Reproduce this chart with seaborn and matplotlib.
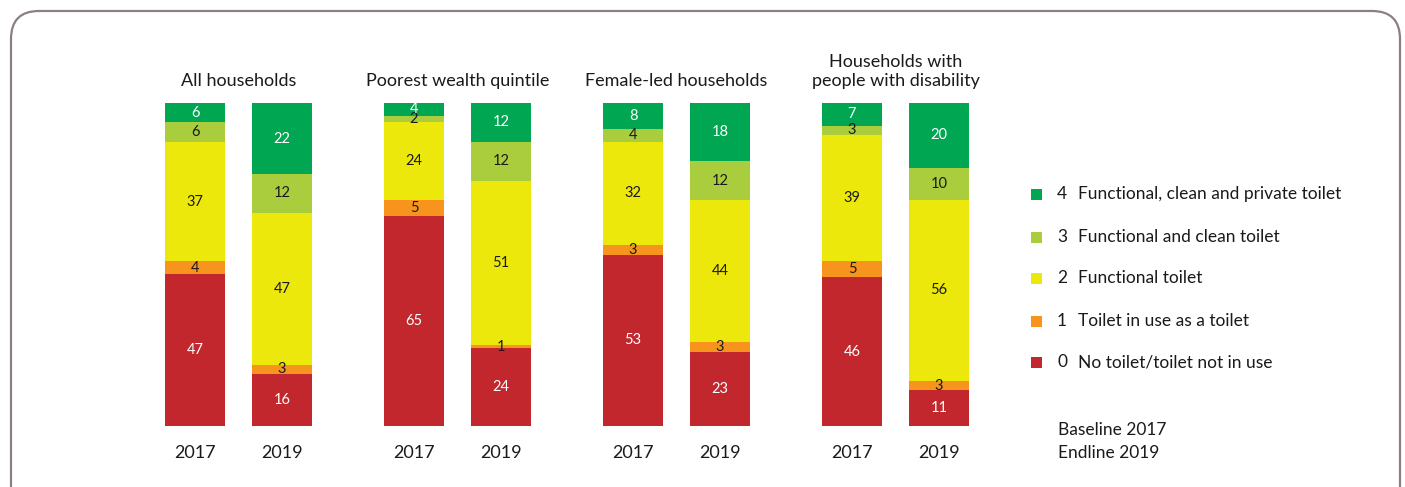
import numpy as np
import pandas as pd
import seaborn as sns
import matplotlib.pyplot as plt
from matplotlib.patches import FancyBboxPatch, Rectangle
from matplotlib.transforms import IdentityTransform

# ---------------- data ----------------
groups = ["All households", "Poorest wealth quintile", "Female-led households",
          "Households with\npeople with disability"]
years = ["2017", "2019"]
no_toilet = [47, 16, 65, 24, 53, 23, 46, 11]
in_use = [4, 3, 5, 1, 3, 3, 5, 3]
functional = [37, 47, 24, 51, 32, 44, 39, 56]
clean = [6, 12, 2, 12, 4, 12, 3, 10]
private = [6, 22, 4, 12, 8, 18, 7, 20]
legend_labels = ["No toilet/toilet not in use", "Toilet in use as a toilet",
                 "Functional toilet", "Functional and clean toilet",
                 "Functional, clean and private toilet"]
legend_codes = ["0", "1", "2", "3", "4"]
note_lines = ["Baseline 2017", "Endline 2019"]

colors = ["#c1272d", "#f7941d", "#ede80b", "#a9cd3d", "#00a651"]
label_colors = ["white", "#1a1a1a", "#1a1a1a", "#1a1a1a", "white"]

# ---------------- figure ----------------
sns.set_theme(style="white")
plt.rcParams['font.family'] = ['Lato', 'DejaVu Sans']

W, H = 1405, 487
fig = plt.figure(figsize=(W / 100, H / 100), dpi=100)
ax = fig.add_axes([100 / W, 61 / H, 900 / W, 323 / H])

GROUP_STEP = 219 / 87
positions = [g * GROUP_STEP + y for g in range(len(groups)) for y in range(len(years))]
series = [no_toilet, in_use, functional, clean, private]
cum = np.cumsum(np.array(series), axis=0)

for i in reversed(range(len(series))):
    df = pd.DataFrame({"x": positions, "y": cum[i]})
    sns.barplot(data=df, x="x", y="y", native_scale=True, color=colors[i],
                width=60 / 87, saturation=1, linewidth=0, errorbar=None,
                orient="x", ax=ax)

for i, s in enumerate(series):
    bottoms = cum[i] - np.array(s)
    for p, b, v in zip(positions, bottoms, s):
        ax.text(p, b + v / 2, str(v), ha="center", va="center",
                fontsize=10.5, color=label_colors[i])

ax.set_xlim(-95 / 87, 805 / 87)
ax.set_ylim(0, 100)
ax.set_yticks([])
ax.set_xticks(positions)
ax.set_xticklabels(years * len(groups), fontsize=13, color="#1a1a1a")
ax.tick_params(axis="x", length=0, pad=14)
ax.set_xlabel("")
ax.set_ylabel("")
for sp in ax.spines.values():
    sp.set_visible(False)

for g, t in enumerate(groups):
    ax.text(g * GROUP_STEP + 0.5, 105.3, t, ha="center", va="baseline",
            fontsize=13, color="#1a1a1a", linespacing=1.25)

# ---------------- legend ----------------
def fx(x):
    return x / W


def fy(y):
    return 1 - y / H


row_y = [362, 321, 278, 237, 194]
for i in range(len(legend_labels)):
    y = row_y[i]
    fig.add_artist(Rectangle((fx(1031), fy(y + 5.5)), 11 / W, 11 / H,
                             transform=fig.transFigure, facecolor=colors[i],
                             edgecolor="none"))
    fig.text(fx(1057), fy(y), legend_codes[i], ha="left", va="center",
             fontsize=12.5, color="#1a1a1a")
    fig.text(fx(1078), fy(y), legend_labels[i], ha="left", va="center",
             fontsize=12.5, color="#1a1a1a")

for k, t in enumerate(note_lines):
    fig.text(fx(1058), fy(430 + 23 * k), t, ha="left", va="center",
             fontsize=12.5, color="#1a1a1a")

# ---------------- border ----------------
border = FancyBboxPatch((11, -30), 1389, 476 + 30,
                        boxstyle="round,pad=0,rounding_size=28",
                        transform=IdentityTransform(), facecolor="none",
                        edgecolor="#8c7f7f", linewidth=1.6)
fig.add_artist(border)

fig.savefig("out.png", dpi=100)
